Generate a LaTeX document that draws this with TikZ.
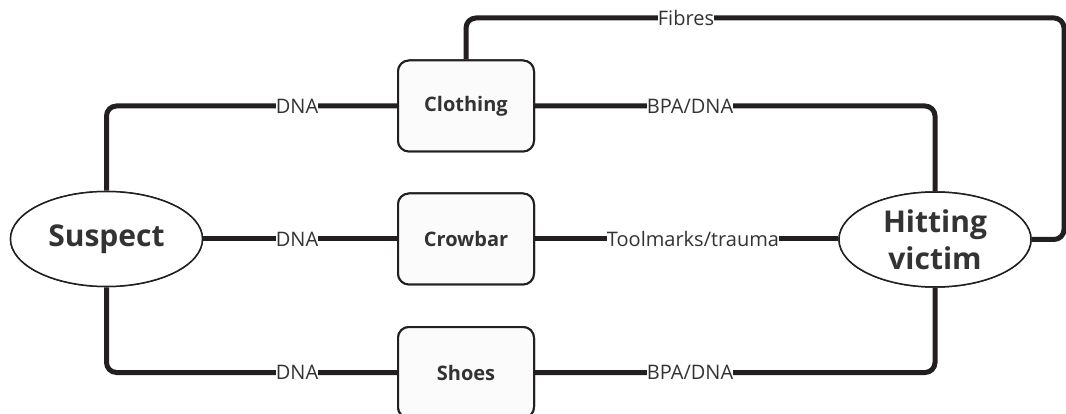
\documentclass[tikz,border=0pt]{standalone}
\usepackage{fontspec}
\setmainfont{Open Sans}
\usetikzlibrary{shapes.geometric}
\definecolor{ink}{HTML}{231F20}
\definecolor{txt}{HTML}{333333}
\tikzset{
  conn/.style={draw=ink, line width=5pt, rounded corners=10pt},
  lbl/.style={fill=white, inner sep=0pt, text=txt, font=\fontsize{20}{24}\selectfont},
  itembox/.style={draw=ink, line width=2pt, fill=gray!3, rounded corners=11pt, minimum width=136pt, minimum height=91pt, text=txt, font=\bfseries\fontsize{20}{24}\selectfont},
  actor/.style={ellipse, draw=ink, line width=1.5pt, fill=white, inner sep=0pt, minimum width=192pt, minimum height=95pt, text=txt, align=center, font=\bfseries\fontsize{30}{37}\selectfont}
}
\begin{document}
\begin{tikzpicture}[x=1pt,y=-1pt]
\useasboundingbox (0,0) rectangle (1066,414);
% nodes
\node[actor] (susp) at (106.5,239) {Suspect};
\node[actor] (vic) at (935,239.5) {Hitting\\victim};
\node[itembox] (cloth) at (466,106) {Clothing};
\node[itembox] (crow) at (466,239) {Crowbar};
\node[itembox] (shoes) at (466,372.5) {Shoes};
\coordinate (fr) at (1064,18);
% connectors
\draw[conn] (susp.north) |- (cloth.west);
\draw[conn] (susp.east) -- (crow.west);
\draw[conn] (susp.south) |- (shoes.west);
\draw[conn] (cloth.east) -| (vic.north);
\draw[conn] (crow.east) -- (crow.east -| vic.west);
\draw[conn] (shoes.east) -| (vic.south);
\draw[conn] (cloth.north) |- (fr) |- (vic.east);
% redraw nodes on top
\node[actor] at (susp) {Suspect};
\node[actor] at (vic) {Hitting\\victim};
\node[itembox] at (cloth) {Clothing};
\node[itembox] at (crow) {Crowbar};
\node[itembox] at (shoes) {Shoes};
% labels
\node[lbl] (l1) at (297,106) {DNA};
\node[lbl] (l2) at (297,239) {DNA};
\node[lbl] (l3) at (297,372.5) {DNA};
\node[lbl] (l4) at (690,106) {BPA/DNA};
\node[lbl] (l5) at (693,239) {Toolmarks/trauma};
\node[lbl] (l6) at (690,372.5) {BPA/DNA};
\node[lbl] (l7) at (686,18) {Fibres};
\end{tikzpicture}
\end{document}
